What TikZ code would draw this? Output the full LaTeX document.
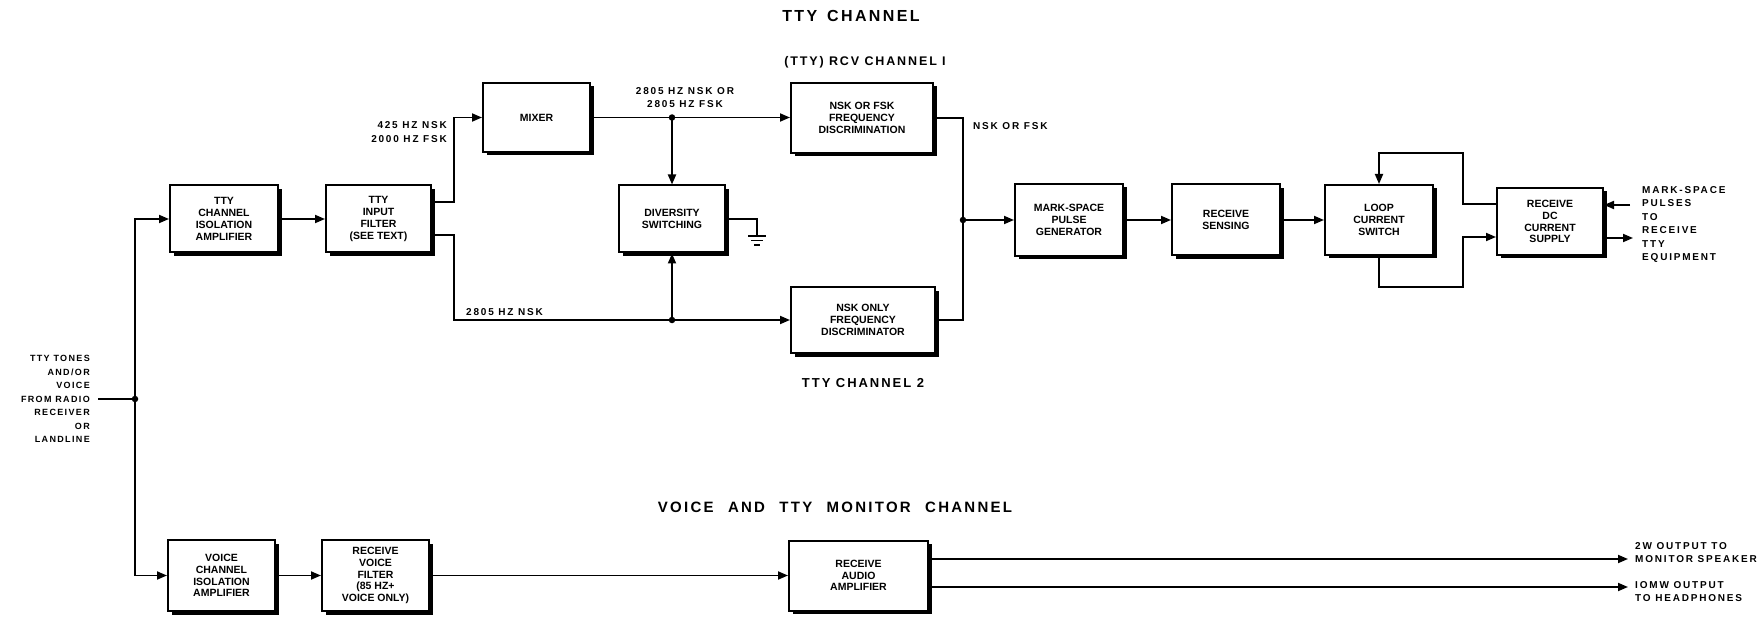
\documentclass[tikz,border=0pt]{standalone}
\usepackage{fontspec}
\setmainfont{Liberation Sans}
\newfontfamily\lblfam[LetterSpace=15]{Liberation Sans}
\newfontfamily\lblfamB[LetterSpace=18]{Liberation Sans}
\usetikzlibrary{arrows.meta,shadows}
\newcommand\boxfont{\bfseries\fontsize{10.5}{11.8}\selectfont}
\newcommand\smlfont{\lblfam\bfseries\fontsize{9}{13.5}\selectfont}
\newcommand\wfont{\lblfamB\bfseries\fontsize{10}{13.5}\selectfont}
\newcommand\outfont{\lblfamB\bfseries\fontsize{10}{13}\selectfont}
\begin{document}
\begin{tikzpicture}[x=1pt,y=-1pt,
  blk/.style={draw, line width=2pt, fill=white, align=center, font=\boxfont, inner sep=0pt,
    drop shadow={shadow xshift=3.5pt, shadow yshift=-3.5pt, fill=black, opacity=1}},
  wire/.style={line width=1.8pt},
  arr/.style={wire, -{Triangle[length=10pt,width=8pt]}},
  jdot/.style={circle, fill=black, inner sep=0pt, minimum size=6.5pt},
  lbl/.style={font=\wfont, inner sep=0pt},
  ttl/.style={font=\lblfam\bfseries\fontsize{15}{17}\selectfont, inner sep=0pt}]
\useasboundingbox (0,0) rectangle (1758,620);
% ---- boxes ----
\node[blk, minimum width=108pt, minimum height=67pt] (amp1) at (224,219) {TTY\\CHANNEL\\ISOLATION\\AMPLIFIER};
\node[blk, minimum width=105pt, minimum height=67pt] (filt) at (378.5,219) {TTY\\INPUT\\FILTER\\(SEE TEXT)};
\node[blk, minimum width=107pt, minimum height=69pt] (mixer) at (536.5,117.5) {MIXER};
\node[blk, minimum width=106pt, minimum height=67pt] (div) at (672,219) {DIVERSITY\\SWITCHING};
\node[blk, minimum width=142pt, minimum height=70pt] (disc1) at (862,118) {NSK OR FSK\\FREQUENCY\\DISCRIMINATION};
\node[blk, minimum width=144pt, minimum height=66pt] (disc2) at (863,320) {NSK ONLY\\FREQUENCY\\DISCRIMINATOR};
\node[blk, minimum width=108pt, minimum height=72pt] (msp) at (1069,220) {MARK-SPACE\\PULSE\\GENERATOR};
\node[blk, minimum width=108pt, minimum height=71pt] (sens) at (1226,220) {RECEIVE\\SENSING};
\node[blk, minimum width=108pt, minimum height=70pt] (loop) at (1379,220) {LOOP\\CURRENT\\SWITCH};
\node[blk, minimum width=106pt, minimum height=67pt] (sup) at (1550,221.5) {RECEIVE\\DC\\CURRENT\\SUPPLY};
\node[blk, minimum width=107pt, minimum height=71pt] (vamp) at (221.5,575.5) {VOICE\\CHANNEL\\ISOLATION\\AMPLIFIER};
\node[blk, minimum width=107pt, minimum height=71pt] (vfilt) at (375.5,575.5) {RECEIVE\\VOICE\\FILTER\\(85 HZ+\\VOICE ONLY)};
\node[blk, minimum width=139pt, minimum height=70pt] (aamp) at (858.5,575.5) {RECEIVE\\AUDIO\\AMPLIFIER};
% ---- titles ----
\node[ttl, font=\lblfam\bfseries\fontsize{16}{18}\selectfont] (t1) at (851,16) {TTY\hspace{3pt} CHANNEL};
\node[ttl, font=\lblfam\bfseries\fontsize{12.5}{14}\selectfont] (t2) at (865,62) {(TTY) RCV CHANNEL I};
\node[ttl, font=\lblfam\bfseries\fontsize{13}{15}\selectfont] (t3) at (863,383) {TTY CHANNEL 2};
\node[ttl] (t4) at (835,507) {VOICE\hspace{8pt} AND\hspace{8pt} TTY\hspace{8pt} MONITOR\hspace{8pt} CHANNEL};
% ---- labels ----
\node[lbl, font=\smlfont, align=right, anchor=east, inner xsep=8pt] (inlbl) at (98,399) {TTY TONES\\AND/OR\\VOICE\\FROM RADIO\\RECEIVER\\OR\\LANDLINE};
\node[lbl, align=right, anchor=east, font=\fontsize{10}{14}\wfont] (l425) at (447,132) {425 HZ NSK\\2000 HZ FSK};
\node[lbl, align=center, font=\outfont] (l2805a) at (685,97.5) {2805 HZ NSK OR\\2805 HZ FSK};
\node[lbl, anchor=west] (l2805b) at (466,312) {2805 HZ NSK};
\node[lbl, anchor=west] (lnsk) at (973,126) {NSK OR FSK};
\node[lbl, align=left, anchor=west] (lms) at (1642,224.5) {MARK-SPACE\\PULSES\\TO\\RECEIVE\\TTY\\EQUIPMENT};
\node[lbl, align=left, anchor=west, font=\outfont] (lspk) at (1635,553) {2W OUTPUT TO\\MONITOR SPEAKER};
\node[lbl, align=left, anchor=west, font=\outfont] (lhp) at (1635,592) {IOMW OUTPUT\\TO HEADPHONES};
% ---- coordinates ----
\coordinate (jin) at (135,399);
\coordinate (busU) at (454,202);
\coordinate (busL) at (454,320);
\coordinate (j1) at (div.north |- mixer.east);
\coordinate (j2) at (div.south |- disc2.west);
\coordinate (gnd) at (757,236);
\coordinate (bus2) at (963,220);
\coordinate (fbT) at (1463,153);
\coordinate (fbB) at (1463,287);
\coordinate (min) at (1630,205);
\coordinate (mout) at (1633,238);
\coordinate (ospk) at (1628,559);
\coordinate (ohp) at (1628,587);
% ---- connectors ----
\draw[wire] (inlbl.east) -- (jin);
\draw[arr] (jin) |- (amp1.west);
\draw[arr] (jin) |- (vamp.west);
\node[jdot] at (jin) {};
\draw[arr] (amp1.east) -- (filt.west);
\draw[arr] (filt.east |- busU) -- (busU) |- (mixer.west);
\draw[arr] (mixer.east) -- (disc1.west |- mixer.east);
\draw[arr] (j1) -- (div.north);
\node[jdot] at (j1) {};
\draw[arr] (filt.east |- 0,235) -| (busL) -- (disc2.west);
\draw[arr] (j2) -- (div.south);
\node[jdot] at (j2) {};
\draw[wire] (div.east) -| (gnd);
\draw[wire] ([xshift=-9pt]gnd) -- ([xshift=9pt]gnd);
\draw[wire] ([xshift=-6pt,yshift=-4.5pt]gnd) -- ([xshift=6pt,yshift=-4.5pt]gnd);
\draw[wire] ([xshift=-3pt,yshift=-9pt]gnd) -- ([xshift=3pt,yshift=-9pt]gnd);
\draw[wire] (disc1.east) -| (bus2);
\draw[wire] (disc2.east) -| (bus2);
\draw[arr] (bus2) -- (msp.west);
\node[jdot] at (bus2) {};
\draw[arr] (msp.east) -- (sens.west);
\draw[arr] (sens.east) -- (loop.west);
\draw[arr] (sup.west |- 0,204) -| (fbT) -| (loop.north);
\draw[arr] (loop.south) |- (fbB) |- (sup.west |- 0,237);
\draw[arr] (min) -- (sup.east |- min);
\draw[arr] (sup.east |- mout) -- (mout);
\draw[arr] (vamp.east) -- (vfilt.west);
\draw[arr] (vfilt.east) -- (aamp.west);
\draw[arr] (aamp.east |- ospk) -- (ospk);
\draw[arr] (aamp.east |- ohp) -- (ohp);
\end{tikzpicture}
\end{document}
